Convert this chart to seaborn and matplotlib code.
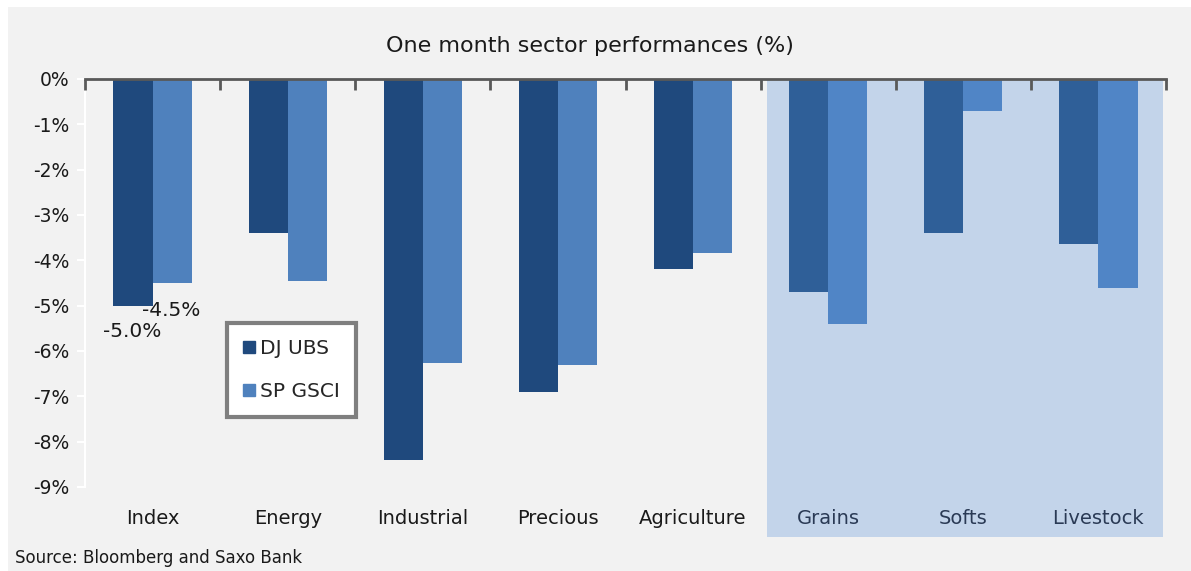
import matplotlib
matplotlib.use("Agg")
import matplotlib.pyplot as plt
import matplotlib.transforms as mtransforms
from matplotlib.patches import Rectangle
from matplotlib.lines import Line2D
import numpy as np
import pandas as pd
import seaborn as sns

categories = ["Index", "Energy", "Industrial", "Precious", "Agriculture", "Grains", "Softs", "Livestock"]
dj_ubs = [-5.0, -3.4, -8.4, -6.9, -4.2, -4.7, -3.4, -3.65]
sp_gsci = [-4.5, -4.45, -6.27, -6.3, -3.84, -5.4, -0.7, -4.6]
series = ["DJ UBS", "SP GSCI"]
y_ticks = [0, -1, -2, -3, -4, -5, -6, -7, -8, -9]
shaded = ["Grains", "Softs", "Livestock"]

df = pd.DataFrame({
    "category": categories * 2,
    "value": dj_ubs + sp_gsci,
    "series": [series[0]] * len(categories) + [series[1]] * len(categories),
})

sns.set_theme(style="white")
plt.rcParams["font.family"] = ["DejaVu Sans"]

W, H = 1191, 571
fig = plt.figure(figsize=(W / 100, H / 100), dpi=100, facecolor="white")
# gray panel background
fig.patches.append(Rectangle((8 / W, 0), 1 - 8 / W, 1 - 7 / H, transform=fig.transFigure,
                             facecolor="#F2F2F2", edgecolor="none", zorder=-10))

ax_l, ax_r, ax_t, ax_b = 85, 1166, 79, 487
ax = fig.add_axes([ax_l / W, 1 - ax_b / H, (ax_r - ax_l) / W, (ax_b - ax_t) / H])
ax.set_facecolor("#F2F2F2")
ax.set_axisbelow(False)

dark = "#1F497D"
light = "#4F81BD"
dark2 = "#2F5F98"
light2 = "#5085C6"

sns.barplot(data=df, x="category", y="value", hue="series", order=categories,
            hue_order=series, palette=[dark, light], width=0.58, ax=ax,
            saturation=1, legend=False, edgecolor="none", zorder=3)

for i, cat in enumerate(categories):
    if cat in shaded:
        ax.containers[0][i].set_facecolor(dark2)
        ax.containers[1][i].set_facecolor(light2)

ax.set_xlim(-0.5, len(categories) - 0.5)
ax.set_ylim(-9, 0)

# shaded region behind sub-sectors, extending below the axis over labels
idx0 = categories.index(shaded[0])
idx1 = categories.index(shaded[-1])
trans = mtransforms.blended_transform_factory(ax.transData, ax.transAxes)
x0 = idx0 - 0.5 + 0.045
x1 = idx1 + 0.5 - 0.025
ext = (537 - ax_b) / (ax_b - ax_t)
ax.add_patch(Rectangle((x0, -ext), x1 - x0, 1 + ext,
                       transform=trans, facecolor="#C3D4EA", edgecolor="none",
                       zorder=1, clip_on=False))

# axes styling
for s in ["bottom", "right"]:
    ax.spines[s].set_visible(False)
ax.spines["top"].set_color("#595959")
ax.spines["top"].set_linewidth(2)
ax.spines["top"].set_zorder(5)
ax.spines["left"].set_color("white")
ax.spines["left"].set_linewidth(1.5)

ax.set_yticks(y_ticks)
ax.set_yticklabels([f"{t}%" for t in y_ticks])
ax.tick_params(axis="y", which="major", left=True, length=6, width=1.5, color="white",
               labelsize=13.5, labelcolor="#1a1a1a", pad=5)
ax.set_xticks(range(len(categories)))
ax.set_xticklabels(categories)
ax.tick_params(axis="x", which="major", bottom=False, top=False, length=0,
               labelsize=14, pad=16)
for lbl, cat in zip(ax.get_xticklabels(), categories):
    lbl.set_color("#2a3a55" if cat in shaded else "#1a1a1a")
ax.set_xticks(np.arange(-0.5, len(categories) + 0.5, 1.0), minor=True)
ax.tick_params(axis="x", which="minor", top=True, bottom=False, direction="in",
               length=8, width=2, color="#595959")
ax.set_xlabel("")
ax.set_ylabel("")
ax.grid(False)

# data labels for Index
ax.text(-0.15, dj_ubs[0] - 0.57, f"{dj_ubs[0]:.1f}%", ha="center", va="center",
        fontsize=14.5, color="#1a1a1a", zorder=6)
ax.text(0.14, sp_gsci[0] - 0.6, f"{sp_gsci[0]:.1f}%", ha="center", va="center",
        fontsize=14.5, color="#1a1a1a", zorder=6)

# legend
handles = [Line2D([], [], marker="s", linestyle="none", markersize=9, color=c) for c in [dark, light]]
leg = ax.legend(handles, series, loc="upper left",
                bbox_to_anchor=((227 - ax_l) / (ax_r - ax_l), (ax_b - 323) / (ax_b - ax_t)),
                frameon=True, fancybox=False, fontsize=14.5, labelspacing=1.2,
                handlelength=0.6, handletextpad=0.25, borderpad=0.8, borderaxespad=0)
leg.get_frame().set_edgecolor("#7F7F7F")
leg.get_frame().set_linewidth(3)
leg.get_frame().set_facecolor("white")
leg.get_frame().set_alpha(1)
leg.set_zorder(10)

fig.text(0.5 * (382 + 797) / W, 1 - 46 / H, "One month sector performances (%)",
         ha="center", va="center", fontsize=16, color="#1a1a1a")
fig.text(15 / W, 1 - 558 / H, "Source: Bloomberg and Saxo Bank", ha="left", va="center",
         fontsize=12, color="#1a1a1a")

fig.savefig("out.png", dpi=100, facecolor=fig.get_facecolor())
